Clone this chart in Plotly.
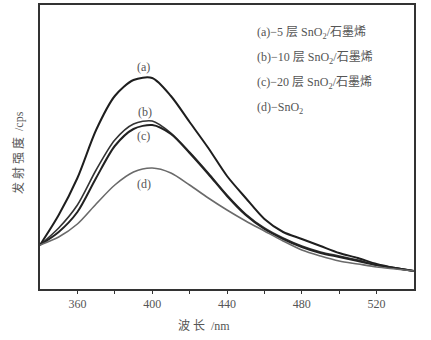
import plotly.graph_objects as go

wavelength = [340, 350, 360, 370, 380, 390, 400, 410, 420, 430, 440,
              450, 460, 470, 480, 490, 500, 510, 520, 530, 540]
series_a = [44, 74, 111, 159, 193, 209, 211, 193, 167, 141, 113,
            91, 70, 57, 50, 43, 36, 31, 25, 21, 18]
series_b = [44, 61, 84, 119, 149, 165, 168, 156, 137, 116, 94,
            75, 61, 51, 43, 37, 33, 29, 24, 21, 18]
series_c = [44, 57, 77, 111, 143, 160, 164, 155, 136, 115, 93,
            74, 60, 50, 42, 36, 32, 28, 24, 21, 18]
series_d = [44, 52, 65, 85, 104, 117, 121, 116, 104, 91, 79,
            68, 58, 48, 39, 33, 28, 25, 22, 20, 18]
curve_labels = ["(a)", "(b)", "(c)", "(d)"]
label_pos = [(395.5, 222), (396, 177), (395.5, 153), (395.5, 105)]
legend_texts = ["(a)−5 层 SnO<sub>2</sub>/石墨烯",
                "(b)−10 层 SnO<sub>2</sub>/石墨烯",
                "(c)−20 层 SnO<sub>2</sub>/石墨烯",
                "(d)−SnO<sub>2</sub>"]
x_ticks = [360, 400, 440, 480, 520]
x_title = "波 长  /nm"
y_title = "发 射 强 度  /cps"

FONT = "Liberation Serif, Noto Sans CJK SC, serif"
TXT = "#555555"
W, H = 431, 340
L, R, T, B = 40, 17, 5, 51
PW, PH = W - L - R, H - T - B

fig = go.Figure()
styles = [("#1e1e1e", 2.0), ("#333333", 1.6), ("#222222", 2.0), ("#6a6a6a", 1.6)]
for ys, (col, w) in zip([series_a, series_b, series_c, series_d], styles):
    fig.add_trace(go.Scatter(x=wavelength, y=ys, mode="lines",
                             line=dict(color=col, width=w, shape="spline", smoothing=0.8),
                             showlegend=False, hoverinfo="skip"))

for lab, (lx, ly) in zip(curve_labels, label_pos):
    fig.add_annotation(x=lx, y=ly, text=lab, showarrow=False,
                       font=dict(family=FONT, size=12, color=TXT))

for i, t in enumerate(legend_texts):
    fig.add_annotation(xref="paper", yref="paper", x=(255 - L) / PW,
                       y=1 - (28 + 25 * i) / PH,
                       text=t, showarrow=False, xanchor="left", yanchor="middle",
                       font=dict(family=FONT, size=12, color=TXT))

# axis titles placed in pixel positions
fig.add_annotation(xref="paper", yref="paper", x=(204 - L) / PW, y=-(326 - T - PH) / PH,
                   text=x_title, showarrow=False, xanchor="center", yanchor="middle",
                   font=dict(family=FONT, size=12, color=TXT))
fig.add_annotation(xref="paper", yref="paper", x=(18 - L) / PW, y=1 - (153 - T) / PH,
                   text=y_title, showarrow=False, textangle=-90,
                   xanchor="center", yanchor="middle",
                   font=dict(family=FONT, size=12, color=TXT))

fig.update_layout(
    width=W, height=H,
    margin=dict(l=L, r=R, t=T, b=B),
    paper_bgcolor="white", plot_bgcolor="white",
    font=dict(family=FONT, size=12, color=TXT),
    xaxis=dict(range=[340, 540], tickvals=x_ticks, ticks="outside", ticklen=3,
               tickwidth=1.2, tickcolor="#333", showline=True, linecolor="#333",
               linewidth=1.5, mirror=True, showgrid=False, zeroline=False,
               automargin=False,
               minor=dict(tickvals=[380, 420, 460, 500], ticks="outside", ticklen=3,
                          tickcolor="#333"),
               tickfont=dict(family=FONT, size=12, color=TXT)),
    yaxis=dict(range=[0, 284], showticklabels=False, ticks="", showline=True,
               linecolor="#333", linewidth=1.5, mirror=True, showgrid=False,
               zeroline=False, automargin=False),
)

fig.write_html("out.html", config={"displayModeBar": False},
               post_script="document.body.style.margin='0';document.body.style.overflow='hidden';")
